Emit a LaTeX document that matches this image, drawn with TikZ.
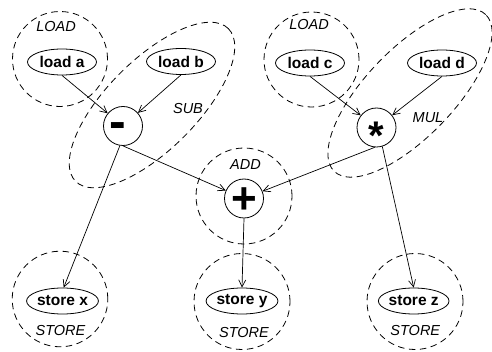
\documentclass[tikz,border=0pt]{standalone}
\usepackage{fontspec}
\setmainfont{Liberation Sans}
\usetikzlibrary{shapes.geometric,arrows.meta}
\newcommand\symf{\fontsize{40}{40}\selectfont\bfseries}
\newcommand\minusf{\fontsize{50}{50}\selectfont\bfseries}
\newcommand\plusf{\fontsize{44}{44}\selectfont\bfseries}
\begin{document}
\begin{tikzpicture}[x=1pt,y=-1pt,
  op/.style={circle, draw, line width=0.8pt, minimum size=39pt, inner sep=0pt},
  ld/.style={ellipse, draw, line width=0.8pt, minimum width=69pt, minimum height=26pt, inner sep=0pt, font=\fontsize{15.5}{15.5}\selectfont\bfseries},
  grp/.style={draw, line width=0.8pt, dash pattern=on 6.5pt off 4.5pt},
  glabel/.style={font=\fontsize{14.5}{14.5}\selectfont\itshape, inner sep=0pt},
  conn/.style={draw, line width=0.7pt, -{Straight Barb[length=7pt,width=7pt]}}]
\useasboundingbox (0,0) rectangle (492,352);
% group outlines
\coordinate (subg) at (152,105);
\coordinate (mulg) at (410,93);
\draw[grp, rotate around={45:(subg)}] (subg) ellipse [x radius=108pt, y radius=45pt];
\draw[grp, rotate around={46:(mulg)}] (mulg) ellipse [x radius=109pt, y radius=44pt];
\draw[grp] (60,59) circle [radius=47.5pt];
\draw[grp] (311.5,59.5) circle [radius=47.5pt];
\draw[grp] (244,196) circle [radius=48pt];
\draw[grp] (60,299) circle [radius=47.8pt];
\draw[grp] (242,301.5) circle [radius=48pt];
\draw[grp] (415,301.5) circle [radius=48pt];
% group labels
\node[glabel] (l1) at (56,27) {LOAD};
\node[glabel] (l2) at (309,24.5) {LOAD};
\node[glabel] (lsub) at (188,108.5) {SUB};
\node[glabel] (lmul) at (428,118) {MUL};
\node[glabel] (ladd) at (245.5,165) {ADD};
\node[glabel] (ls1) at (60.5,331) {STORE};
\node[glabel] (ls2) at (244,332.5) {STORE};
\node[glabel] (ls3) at (415.3,331) {STORE};
% nodes
\node[ld] (loada) at (62,62) {load a};
\node[ld] (loadb) at (181,61.5) {load b};
\node[ld] (loadc) at (310,63) {load c};
\node[ld] (loadd) at (442,63) {load d};
\node[op] (sub) at (123,126) {\minusf\makebox[0pt]{\hspace{-11pt}\raisebox{-0.25em}[0pt][0pt]{-}}};
\node[op] (mul) at (376.5,127.5) {\symf\makebox[0pt]{\raisebox{-0.56em}[0pt][0pt]{*}}};
\node[op] (add) at (244,198.5) {\plusf\makebox[0pt]{\raisebox{-0.34em}[0pt][0pt]{+}}};
\node[ld] (storex) at (62.5,301) {store x};
\node[ld] (storey) at (242,301) {store y};
\node[ld] (storez) at (413.7,301) {store z};
% connectors
\draw[conn] (loada.south) -- (sub);
\draw[conn] (loadb.south) -- (sub);
\draw[conn] (loadc.south) -- (mul);
\draw[conn] (loadd.south) -- (mul);
\draw[conn] (sub.south) -- (add);
\draw[conn] (mul.-95) -- (add);
\draw[conn] (sub.-99) -- (storex.85);
\draw[conn] (add.south) -- (storey.north);
\draw[conn] (mul.-73) -- (storez.north);
\end{tikzpicture}
\end{document}
